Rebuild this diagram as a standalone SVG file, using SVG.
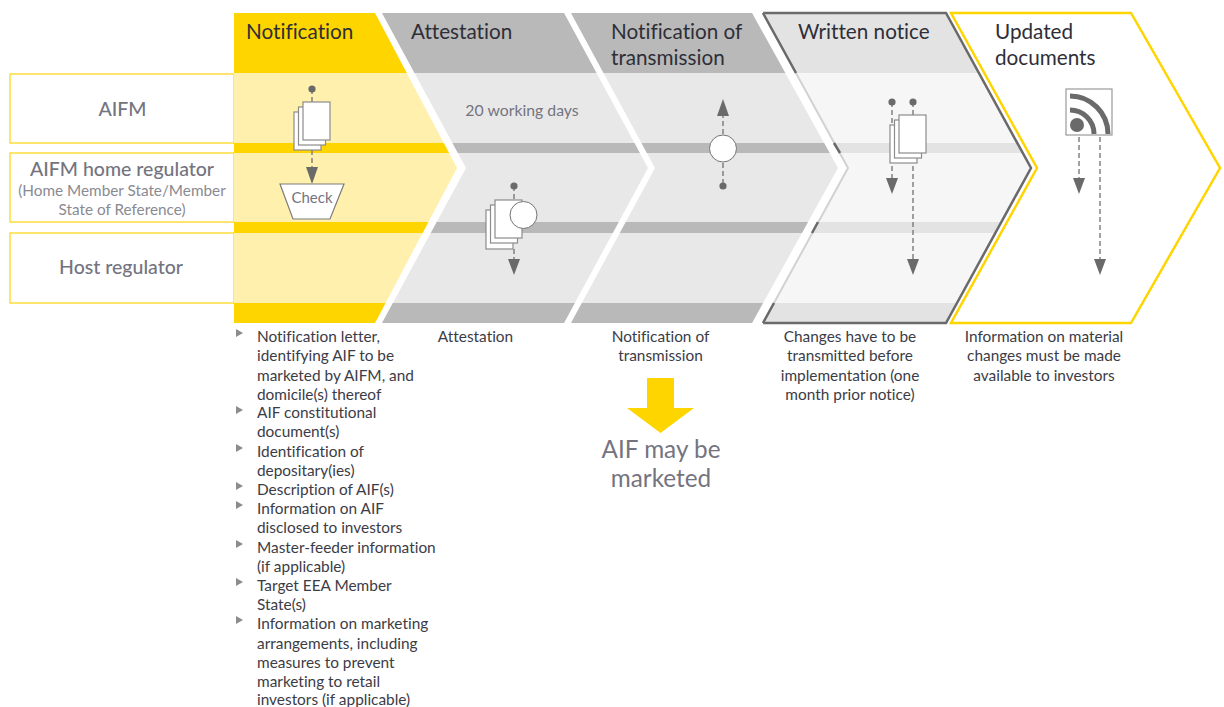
<svg xmlns="http://www.w3.org/2000/svg" width="1224" height="707" viewBox="0 0 1224 707">
<style>
text{font-family:"Lato","Open Sans","Liberation Sans",sans-serif;font-variant-ligatures:none}
.h{font-size:20.7px;fill:#2e2e38}
.g{fill:#747480}
.m{text-anchor:middle}
.cap{font-size:15.400px;fill:#3c3c46}
.lab{font-size:19.500px;font-weight:500;fill:#747480;text-anchor:middle}
.sub{font-size:15.300px;fill:#8a8a92;text-anchor:middle}
.row{fill:#fff;stroke:#ffdc3c;stroke-width:1.5}
.doc{fill:#fff;stroke:#8c8c8c;stroke-width:1.2}
.cir{fill:#fff;stroke:#747474;stroke-width:1}
.con{stroke:#7a7a7a;stroke-width:1.4;stroke-dasharray:5 3;fill:none}
.d{fill:#6a6a6a}
.a{fill:#6a6a6a}
.y{fill:#ffd500}.py{fill:#fff0ad}
.b{fill:#b9b9b9}.pb{fill:#e8e8e8}
.w{fill:#e3e3e3}.pw{fill:#f6f6f6}
.bul{fill:#8c8c8c}
</style>
<defs>
<clipPath id="c1"><polygon points="234,13 375,13 457,168 375,323 234,323"/></clipPath>
<clipPath id="c2"><polygon points="382,13 564,13 648,168 564,323 382,323 466,168"/></clipPath>
<clipPath id="c3"><polygon points="571,13 752,13 838,168 752,323 571,323 655,168"/></clipPath>
<clipPath id="c4"><polygon points="763,13 946,13 1031,168 946,323 763,323 848,168"/></clipPath>
</defs>

<g id="row-aifm"><rect class="row" x="10" y="74" width="224" height="69"/><text class="lab" x="122.500" y="116">AIFM</text></g>
<g id="row-home"><rect class="row" x="10" y="153" width="224" height="69"/><text class="lab" x="122" y="176">AIFM home regulator</text><text class="sub" x="122" y="196">(Home Member State/Member</text><text class="sub" x="122" y="215">State of Reference)</text></g>
<g id="row-host"><rect class="row" x="10" y="233" width="224" height="70"/><text class="lab" x="121" y="274">Host regulator</text></g>

<g id="step-notification">
<g clip-path="url(#c1)"><rect class="py" x="234" y="13" width="240" height="310"/><rect class="y" x="234" y="13" width="240" height="60"/><rect class="y" x="234" y="143" width="240" height="10"/><rect class="y" x="234" y="222" width="240" height="11"/><rect class="y" x="234" y="303" width="240" height="20"/></g>
<text class="h" x="246" y="39">Notification</text>
</g>
<g id="step-attestation">
<g clip-path="url(#c2)"><rect class="pb" x="380" y="13" width="280" height="310"/><rect class="b" x="380" y="13" width="280" height="60"/><rect class="b" x="380" y="143" width="280" height="10"/><rect class="b" x="380" y="222" width="280" height="11"/><rect class="b" x="380" y="303" width="280" height="20"/></g>
<text class="h" x="411" y="39">Attestation</text>
<text class="g m" x="522" y="116" font-size="15.8">20 working days</text>
</g>
<g id="step-transmission">
<g clip-path="url(#c3)"><rect class="pb" x="570" y="13" width="280" height="310"/><rect class="b" x="570" y="13" width="280" height="60"/><rect class="b" x="570" y="143" width="280" height="10"/><rect class="b" x="570" y="222" width="280" height="11"/><rect class="b" x="570" y="303" width="280" height="20"/></g>
<text class="h" x="611" y="39">Notification of</text><text class="h" x="611" y="65">transmission</text>
</g>
<g id="step-updated">
<polygon points="951,13 1131,13 1220,168 1131,323 951,323 1037,168" fill="#fff" stroke="#ffd500" stroke-width="2.5"/>
<text class="h" x="995" y="39">Updated</text><text class="h" x="995" y="65">documents</text>
</g>
<g id="step-written">
<g clip-path="url(#c4)"><rect class="pw" x="760" y="13" width="280" height="310"/><rect class="w" x="760" y="13" width="280" height="60"/><rect class="w" x="760" y="143" width="280" height="10"/><rect class="w" x="760" y="222" width="280" height="11"/><rect class="w" x="760" y="303" width="280" height="20"/></g>
<polyline points="763,13 946,13 1031,168 946,323 763,323" fill="none" stroke="#6a6a6a" stroke-width="2.5"/>
<polyline points="763,13 848,168 763,323" fill="none" stroke="#d2d2d2" stroke-width="2"/>
<path d="M763 13L796 73M834 143L840 153M818 222L812 233M774 303L763 323" fill="none" stroke="#6a6a6a" stroke-width="2.500"/>
<text class="h" x="798" y="39">Written notice</text>
</g>

<g id="connectors">
<path class="con" d="M312 89V102M312 150V167M514 186V200M514 249V259M723 134V116M723 163V186M892 102V178M913 102V259M1079 137V178M1100 137V259"/>
<g class="a"><path d="M306 167H318L312 184Z"/><path d="M508 259H520L514 275Z"/><path d="M717 116H729L723 99Z"/><path d="M886 178H898L892 194Z"/><path d="M907 259H919L913 275Z"/><path d="M1073 178H1085L1079 194Z"/><path d="M1094 259H1106L1100 275Z"/></g>
<g class="d"><circle cx="312" cy="89" r="3.600"/><circle cx="514" cy="186" r="3.600"/><circle cx="723" cy="186" r="3.600"/><circle cx="892" cy="102" r="3.600"/><circle cx="913" cy="102" r="3.600"/></g>
</g>

<g id="docs-notification"><rect class="doc" x="294" y="112" width="27" height="38"/><rect class="doc" x="298.500" y="107" width="27" height="38"/><rect class="doc" x="303" y="102" width="27" height="38"/></g>
<g id="check"><polygon points="280,184 344,184 330,219 293,219" fill="#fff" stroke="#7c7c7c" stroke-width="1.200"/><text class="g m" x="312" y="203" font-size="15">Check</text></g>
<g id="docs-attestation"><rect class="doc" x="486" y="210" width="27" height="39"/><rect class="doc" x="490.500" y="205" width="27" height="38"/><rect class="doc" x="495" y="200" width="27" height="38"/><circle class="cir" cx="523.500" cy="215" r="13.500"/></g>
<g id="circle-transmission"><circle class="cir" cx="723" cy="148.500" r="13.500"/></g>
<g id="docs-written"><rect class="doc" x="890" y="125" width="27" height="38"/><rect class="doc" x="894.500" y="120" width="27" height="38"/><rect class="doc" x="899" y="115" width="27" height="38"/></g>
<g id="rss"><rect x="1066" y="89" width="46" height="46" fill="#fff" stroke="#9a9a9a" stroke-width="1.200"/><circle class="d" cx="1077" cy="125" r="7"/><path d="M1070 110A24 24 0 0 1 1094 134M1070 96A38 38 0 0 1 1108 134" fill="none" stroke="#6a6a6a" stroke-width="5"/></g>

<g id="big-arrow"><polygon points="647,378 674,378 674,408 694,408 660.500,433 627,408 647,408" fill="#ffd500"/><text class="g m" x="661" y="458" font-size="24.3">AIF may be</text><text class="g m" x="661" y="487" font-size="24.3">marketed</text></g>

<g id="list">
<g class="bul"><path d="M236 329L243 333L236 337Z"/><path d="M236 406L243 410L236 414Z"/><path d="M236 444L243 448L236 452Z"/><path d="M236 482L243 486L236 490Z"/><path d="M236 501L243 505L236 509Z"/><path d="M236 540L243 544L236 548Z"/><path d="M236 578L243 582L236 586Z"/><path d="M236 616L243 620L236 624Z"/></g>
<g class="cap">
<text x="257" y="342">Notification letter,</text><text x="257" y="361">identifying AIF to be</text><text x="257" y="381">marketed by AIFM, and</text><text x="257" y="400">domicile(s) thereof</text>
<text x="257" y="418">AIF constitutional</text><text x="257" y="437">document(s)</text>
<text x="257" y="457">Identification of</text><text x="257" y="476">depositary(ies)</text>
<text x="257" y="495">Description of AIF(s)</text>
<text x="257" y="514">Information on AIF</text><text x="257" y="533">disclosed to investors</text>
<text x="257" y="553">Master-feeder information</text><text x="257" y="572">(if applicable)</text>
<text x="257" y="591">Target EEA Member</text><text x="257" y="610">State(s)</text>
<text x="257" y="629">Information on marketing</text><text x="257" y="649">arrangements, including</text><text x="257" y="668">measures to prevent</text><text x="257" y="687">marketing to retail</text><text x="257" y="705">investors (if applicable)</text>
</g>
</g>
<g id="captions" class="cap">
<text class="m" x="475.500" y="342">Attestation</text>
<text class="m" x="660.500" y="342">Notification of</text><text class="m" x="660.500" y="361">transmission</text>
<text class="m" x="850" y="342">Changes have to be</text><text class="m" x="850" y="361">transmitted before</text><text class="m" x="850" y="381">implementation (one</text><text class="m" x="850" y="400">month prior notice)</text>
<text class="m" x="1044" y="342">Information on material</text><text class="m" x="1044" y="361">changes must be made</text><text class="m" x="1044" y="381">available to investors</text>
</g>
</svg>
